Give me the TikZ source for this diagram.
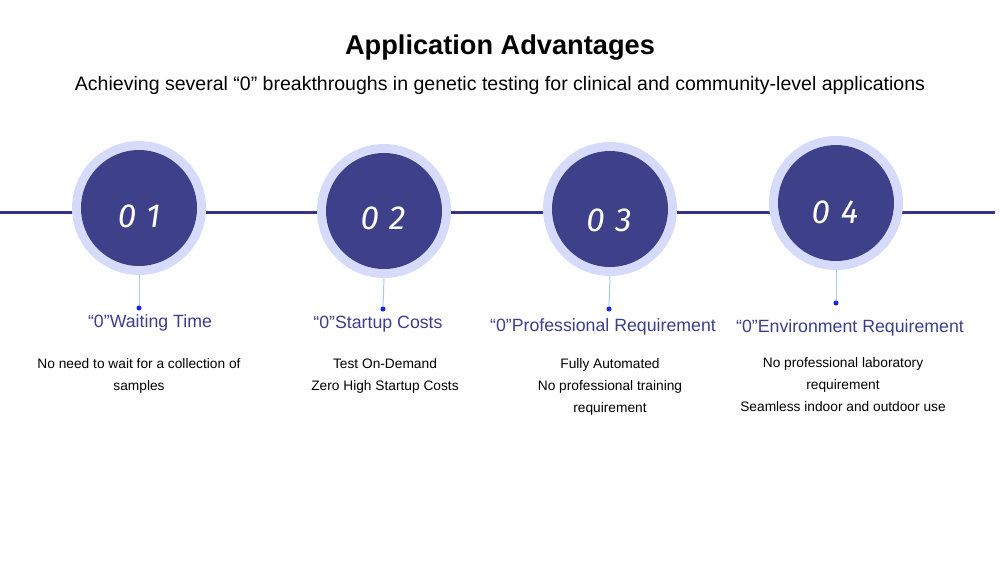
\documentclass[tikz,border=0pt]{standalone}
\usepackage{fontspec}
\setmainfont{Liberation Sans}
\newfontfamily\numfont[LetterSpace=32]{Fira Sans}
\usepackage{xcolor}
\definecolor{advdark}{RGB}{62, 64, 138}
\definecolor{advring}{RGB}{214, 219, 252}
\definecolor{advline}{RGB}{52, 52, 140}
\definecolor{advhead}{RGB}{60, 62, 140}
\definecolor{advdot}{RGB}{22, 40, 225}
\definecolor{advstem}{RGB}{168, 200, 242}
\usepackage{tikz}
\usetikzlibrary{positioning}

\begin{document}
\begin{tikzpicture}[
  x=0.75pt, y=-0.75pt,
  ring/.style={circle, fill=advring, minimum size=100.5pt, inner sep=0pt},
  disc/.style={circle, fill=advdark, minimum size=87pt, inner sep=0pt},
  num/.style={font=\numfont\itshape\fontsize{25}{25}\selectfont, text=white, inner sep=0pt},
  stem/.style={draw=advstem, line width=0.75pt},
  tip/.style={circle, fill=advdot, minimum size=3.8pt, inner sep=0pt},
  head/.style={font=\fontsize{13.3}{15}\selectfont, text=advhead, inner sep=0pt},
  body/.style={font=\fontsize{10.3}{16.5}\selectfont, text=black, align=center, inner sep=0pt}
]
\useasboundingbox (0,0) rectangle (1000,561);

% titles
\node[font=\bfseries\fontsize{20.4}{22}\selectfont, inner sep=0pt] (title) at (500,48) {Application Advantages};
\node[font=\fontsize{14.65}{17}\selectfont, inner sep=0pt] (subtitle) at (500,85.5) {Achieving several “0” breakthroughs in genetic testing for clinical and community-level applications};

% timeline
\coordinate (lineL) at (0,212.5);
\coordinate (lineR) at (995,212.5);
\draw[draw=advline, line width=2.5pt] (lineL) -- (lineR);

% circles
\node[ring] (r1) at (139,208) {};
\node[disc] (c1) at (139,208) {};
\node[num] (n1) at (139,216) {01};

\node[ring] (r2) at (384,211) {};
\node[disc] (c2) at (384,211) {};
\node[num] (n2) at (383,218) {02};

\node[ring] (r3) at (610,209) {};
\node[disc] (c3) at (610,209) {};
\node[num] (n3) at (609,220) {03};

\node[ring] (r4) at (836,203) {};
\node[disc] (c4) at (836,203) {};
\node[num] (n4) at (835,212) {04};

% stems
\node[tip] (d1) at (139,308) {};
\node[tip] (d2) at (383,309) {};
\node[tip] (d3) at (609,309) {};
\node[tip] (d4) at (836,303) {};
\draw[stem] (r1.south) -- (d1.north);
\draw[stem] (r2.south) -- (d2.north);
\draw[stem] (r3.south) -- (d3.north);
\draw[stem] (r4.south) -- (d4.north);

% headings
\node[head] (h1) at (150,323) {“0”Waiting Time};
\node[head] (h2) at (378,324) {“0”Startup Costs};
\node[head] (h3) at (603,327) {“0”Professional Requirement};
\node[head] (h4) at (850,328) {“0”Environment Requirement};

% texts
\node[body] (b1) at (139,376) {No need to wait for a collection of\\samples};
\node[body] (b2) at (385,376) {Test On-Demand\\Zero High Startup Costs};
\node[body] (b3) at (610,387) {Fully Automated\\No professional training\\requirement};
\node[body] (b4) at (843,384.5) {No professional laboratory\\requirement\\Seamless indoor and outdoor use};

\end{tikzpicture}
\end{document}
